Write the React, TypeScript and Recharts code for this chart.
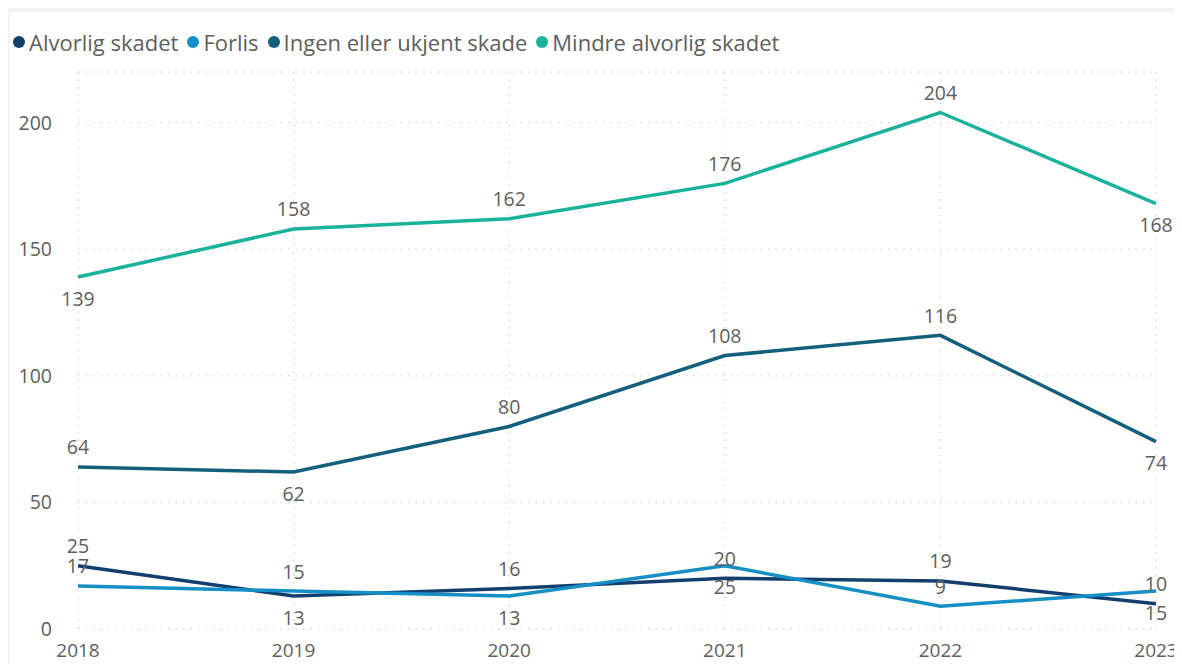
import { LineChart, Line, XAxis, YAxis, CartesianGrid, LabelList } from 'recharts';

const years = ['2018', '2019', '2020', '2021', '2022', '2023'];
const alvorlig = [25, 13, 16, 20, 19, 10];
const forlis = [17, 15, 13, 25, 9, 15];
const ingen = [64, 62, 80, 108, 116, 74];
const mindre = [139, 158, 162, 176, 204, 168];
const yTicks = [0, 50, 100, 150, 200];

// where Power BI put each data label: 'a' above, 'b' below
const alvorligPos = ['a', 'b', 'a', 'a', 'a', 'a'];
const forlisPos = ['a', 'a', 'b', 'b', 'a', 'b'];
const ingenPos = ['a', 'b', 'a', 'a', 'a', 'b'];
const mindrePos = ['b', 'a', 'a', 'a', 'a', 'b'];

const series = [
  { key: 'alvorlig', name: 'Alvorlig skadet', color: '#123f6e', pos: alvorligPos },
  { key: 'forlis', name: 'Forlis', color: '#168fc6', pos: forlisPos },
  { key: 'ingen', name: 'Ingen eller ukjent skade', color: '#135f7c', pos: ingenPos },
  { key: 'mindre', name: 'Mindre alvorlig skadet', color: '#1bb29b', pos: mindrePos },
];

const data = years.map((year, i) => ({
  year,
  alvorlig: alvorlig[i],
  forlis: forlis[i],
  ingen: ingen[i],
  mindre: mindre[i],
}));

const FONT = '"Open Sans", sans-serif';
const TEXT = '#605e5c';

function makeLabel(pos: string[]) {
  return (props: any) => {
    const { x, y, value, index } = props;
    const below = pos[index] === 'b';
    return (
      <text
        x={x}
        y={below ? y + 21 : y - 20}
        textAnchor="middle"
        dominantBaseline="central"
        fill={TEXT}
        fontSize={19.5}
        fontFamily={FONT}
      >
        {value}
      </text>
    );
  };
}

export default function App() {
  return (
    <div style={{ position: 'relative', margin: -8, width: 1182, height: 672, background: '#f3f3f3', overflow: 'hidden' }}>
      <div style={{ position: 'absolute', left: 10, top: 12, width: 1172, height: 660, background: '#ffffff' }}>
        <div
          style={{
            position: 'absolute',
            left: 3,
            top: 15,
            display: 'flex',
            alignItems: 'center',
            fontFamily: FONT,
            fontSize: 22,
            color: TEXT,
            whiteSpace: 'nowrap',
          }}
        >
          {series.map((s) => (
            <span key={s.key} style={{ display: 'flex', alignItems: 'center', marginRight: 9 }}>
              <span style={{ width: 12, height: 12, borderRadius: 6, background: s.color, marginRight: 4 }} />
              {s.name}
            </span>
          ))}
        </div>
        <LineChart width={1172} height={660} data={data} margin={{ top: 60, right: 26, left: 0, bottom: 0 }}>
          <CartesianGrid stroke="#c8c8c8" strokeDasharray="1.5 6" />
          <XAxis
            dataKey="year"
            axisLine={false}
            tickLine={false}
            height={43}
            tickMargin={9}
            tick={{ fill: TEXT, fontSize: 19, fontFamily: FONT }}
            interval={0}
          />
          <YAxis
            domain={[0, 220]}
            ticks={yTicks}
            axisLine={false}
            tickLine={false}
            tickSize={0}
            tickMargin={26}
            width={68}
            tick={{ fill: TEXT, fontSize: 19.5, fontFamily: FONT }}
          />
          {series.map((s) => (
            <Line
              key={s.key}
              dataKey={s.key}
              name={s.name}
              stroke={s.color}
              strokeWidth={3.5}
              dot={false}
              activeDot={false}
              isAnimationActive={false}
            >
              <LabelList dataKey={s.key} content={makeLabel(s.pos)} />
            </Line>
          ))}
        </LineChart>
      </div>
    </div>
  );
}
